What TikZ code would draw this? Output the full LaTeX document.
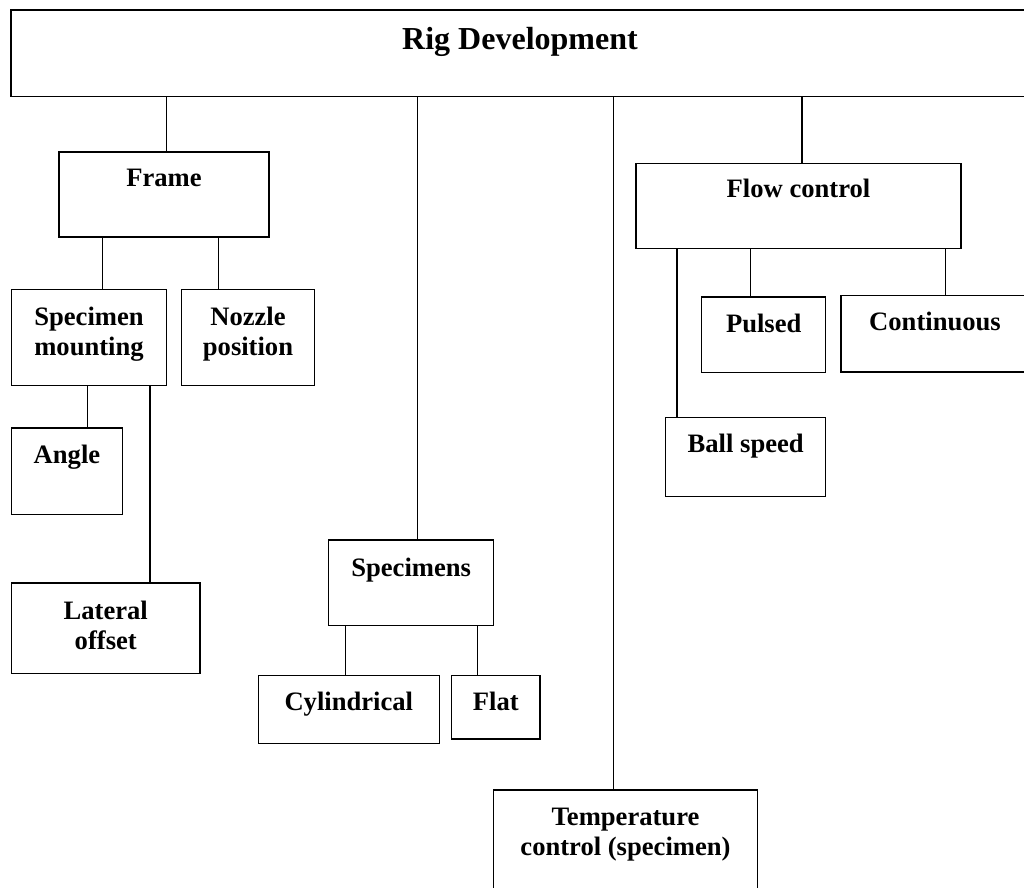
\documentclass[tikz,border=0pt]{standalone}
\usepackage{fontspec}
\setmainfont{Liberation Serif}
\begin{document}
\begin{tikzpicture}[x=0.5pt,y=-0.5pt,
  box/.style={draw=black, line width=0.65pt, rectangle, inner sep=0pt, fill=none},
  lbl/.style={font=\fontsize{13.3pt}{15pt}\selectfont\bfseries, inner sep=0pt, align=center, anchor=base},
  title/.style={font=\fontsize{16pt}{19pt}\selectfont\bfseries, inner sep=0pt, anchor=base},
  link/.style={line width=0.65pt}]
\useasboundingbox (0,0) rectangle (1024,888);
\clip (0,0) rectangle (1024,888);
\fill[white] (0,0) rectangle (1024,888);
% boxes
\node[box, minimum width=517pt, minimum height=43.25pt] (rig) at (528,53.25) {};
\node[box, minimum width=105pt, minimum height=42.5pt] (frame) at (164,194.5) {};
\node[box, minimum width=77.5pt, minimum height=48pt] (smount) at (89,337.5) {};
\node[box, minimum width=66.5pt, minimum height=48pt] (nozzle) at (248,337.5) {};
\node[box, minimum width=55.5pt, minimum height=43.25pt] (angle) at (67,471.25) {};
\node[box, minimum width=94.25pt, minimum height=45.25pt] (lateral) at (105.75,628.25) {};
\node[box, minimum width=82.5pt, minimum height=42.85pt] (specimens) at (411.2,582.85) {};
\node[box, minimum width=90.5pt, minimum height=34.2pt] (cyl) at (348.8,709.5) {};
\node[box, minimum width=44.15pt, minimum height=31.85pt] (flat) at (495.85,707.15) {};
\node[box, minimum width=132.2pt, minimum height=55pt] (temp) at (625.5,845) {};
\node[box, minimum width=162.5pt, minimum height=42.5pt] (flow) at (798.5,205.8) {};
\node[box, minimum width=62pt, minimum height=37.85pt] (pulsed) at (763.7,334.85) {};
\node[box, minimum width=94pt, minimum height=38.35pt] (cont) at (935,333.65) {};
\node[box, minimum width=80pt, minimum height=39.5pt] (ball) at (745.7,457.2) {};
% labels (anchor base = baseline of the last line)
\node[title] (trig) at (520,50) {Rig Development};
\node[lbl] (tframe) at (164,187) {Frame};
\node[lbl] (tsmount) at (89,355) {Specimen\\mounting};
\node[lbl] (tnozzle) at (248,355) {Nozzle\\position};
\node[lbl] (tangle) at (67,463.3) {Angle};
\node[lbl] (tlateral) at (105.75,649.3) {Lateral\\offset};
\node[lbl] (tspecimens) at (411.2,576) {Specimens};
\node[lbl] (tcyl) at (348.8,710.7) {Cylindrical};
\node[lbl] (tflat) at (495.85,710.7) {Flat};
\node[lbl] (ttemp) at (625.5,855) {Temperature\\control (specimen)};
\node[lbl] (tflow) at (798.5,198) {Flow control};
\node[lbl] (tpulsed) at (763.7,332.3) {Pulsed};
\node[lbl] (tcont) at (935,330) {Continuous};
\node[lbl] (tball) at (745.7,452.3) {Ball speed};
% connector x positions
\coordinate (xframe) at (166.5,0);
\coordinate (xspec) at (417.3,0);
\coordinate (xtemp) at (613.8,0);
\coordinate (xflow) at (802,0);
\coordinate (xsm) at (102.5,0);
\coordinate (xnz) at (218.5,0);
\coordinate (xang) at (87.3,0);
\coordinate (xlat) at (150,0);
\coordinate (xcyl) at (345.3,0);
\coordinate (xflat) at (477.3,0);
\coordinate (xball) at (677,0);
\coordinate (xpul) at (750.7,0);
\coordinate (xcon) at (945.7,0);
% connectors
\draw[link] (rig.south -| xframe) -- (frame.north -| xframe);
\draw[link] (rig.south -| xspec) -- (specimens.north -| xspec);
\draw[link] (rig.south -| xtemp) -- (temp.north -| xtemp);
\draw[link] (rig.south -| xflow) -- (flow.north -| xflow);
\draw[link] (frame.south -| xsm) -- (smount.north -| xsm);
\draw[link] (frame.south -| xnz) -- (nozzle.north -| xnz);
\draw[link] (smount.south -| xang) -- (angle.north -| xang);
\draw[link] (smount.south -| xlat) -- (lateral.north -| xlat);
\draw[link] (specimens.south -| xcyl) -- (cyl.north -| xcyl);
\draw[link] (specimens.south -| xflat) -- (flat.north -| xflat);
\draw[link] (flow.south -| xball) -- (ball.north -| xball);
\draw[link] (flow.south -| xpul) -- (pulsed.north -| xpul);
\draw[link] (flow.south -| xcon) -- (cont.north -| xcon);
\end{tikzpicture}
\end{document}
